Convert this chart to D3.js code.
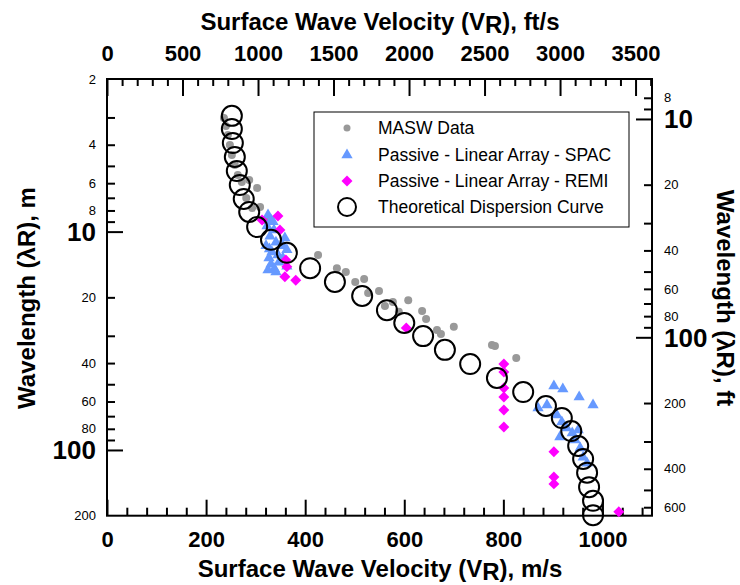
<!DOCTYPE html>
<html><head><meta charset="utf-8">
<script src="https://cdn.jsdelivr.net/npm/d3@7"></script>
<style>body{margin:0;background:#fff} svg{display:block;font-family:"Liberation Sans",Arial,sans-serif}</style>
</head><body>
<svg id="c" width="740" height="585"></svg>
<script>
// velocity (m/s), wavelength (m)
const masw = [[236,3.02],[240,3.28],[244,3.61],[248,4.01],[252,4.46],[258,4.95],[264,5.51],[272,5.93],[287,5.80],[303,6.31],[281,7.02],[293,7.79],[309,7.71],[319,8.85],[426,12.8],[464,14.7],[482,15.3],[501,17.0],[519,16.5],[527,19.1],[549,18.7],[561,21.9],[577,21.0],[608,20.6],[589,23.3],[636,23.1],[644,25.1],[666,28.2],[700,27.3],[674,29.4],[777,33.1],[783,33.4],[826,37.9]];
const spac = [[325,8.39],[331,8.85],[335,9.0],[323,9.42],[337,9.83],[329,10.5],[359,10.7],[341,11.2],[355,11.6],[321,11.6],[328,12.0],[363,12.1],[333,12.4],[345,12.8],[327,13.2],[355,13.2],[347,13.8],[331,14.1],[363,14.4],[338,14.8],[325,15.0],[341,15.3],
  [902,50.9],[920,52.6],[953,57.2],[981,62.2],[870,64.2],[888,62.2],[908,69.1],[918,74.5],[928,79.3],[951,81.0],[939,83.6],[914,87.2],[945,90.0],[955,97.9],[961,108],[969,115]];
const remi = [[345,8.48],[313,8.85],[349,9.83],[361,13.5],[363,14.5],[359,16.1],[381,16.7],[604,27.6],[801,40.4],[801,44.0],[801,52.0],[801,57.2],[801,65.6],[801,78.5],[902,102],[902,133],[902,143],[1033,192]];
const theory = [[252,2.95],[252,3.39],[254,3.93],[258,4.55],[262,5.28],[268,6.12],[276,7.09],[287,8.13],[303,9.53],[331,10.9],[363,12.5],[410,14.7],[460,17.0],[515,19.7],[565,22.9],[600,26.2],[638,30.1],[682,34.8],[733,40.4],[787,46.8],[840,54.3],[886,62.9],[918,71.4],[937,81.9],[951,95.9],[961,110],[969,127],[973,148],[981,171],[981,199]];

const xMajor = [0,200,400,600,800,1000];
const xMinor = d3.range(0,1101,40).filter(v=>v%200!==0);
const ftMajor = [0,500,1000,1500,2000,2500,3000,3500];
const ftMinor = d3.range(0,3601,100).filter(v=>v%500!==0);
const yLabels = [2,4,6,8,10,20,40,60,80,100,200];
const yTicks = [3,4,5,6,7,8,9,20,30,40,50,60,70,80,90];
const yBig = [10,100];
const yftLabels = [8,10,20,40,60,80,100,200,400,600];
const yftTicks = [8,9,20,30,40,50,60,70,80,90,200,300,400,500,600];
const legendItems = ["MASW Data","Passive - Linear Array - SPAC","Passive - Linear Array - REMI","Theoretical Dispersion Curve"];

const L=107,R=652,T=79,B=515.7;
const M2FT=3.28084;
const svg=d3.select("#c");
const x=d3.scaleLinear().domain([0,1100]).range([L,R]);
const xft=d3.scaleLinear().domain([0,1100*M2FT]).range([L,R]);
const y=d3.scaleLog().domain([2,200]).range([T,B]);
const yft=d3.scaleLog().domain([2*M2FT,200*M2FT]).range([T,B]);

function styleAxis(g){g.select(".domain").remove();g.selectAll("line").attr("stroke","#000").attr("stroke-width",2);}

// bottom
svg.append("g").attr("transform",`translate(0,${B})`).call(d3.axisBottom(x).tickValues(xMinor).tickSize(-8).tickFormat("")).call(styleAxis);
svg.append("g").attr("transform",`translate(0,${B})`).call(d3.axisBottom(x).tickValues(xMajor).tickSize(-16).tickPadding(16).tickFormat(d3.format("d"))).call(styleAxis)
  .selectAll("text").attr("font-size",22).attr("font-weight","bold").attr("fill","#000").attr("font-family","Liberation Sans, Arial, sans-serif");
// top
svg.append("g").attr("transform",`translate(0,${T})`).call(d3.axisTop(xft).tickValues(ftMinor).tickSize(-7).tickFormat("")).call(styleAxis);
svg.append("g").attr("transform",`translate(0,${T})`).call(d3.axisTop(xft).tickValues(ftMajor).tickSize(-17).tickPadding(18).tickFormat(d3.format("d"))).call(styleAxis)
  .selectAll("text").attr("font-size",22).attr("font-weight","bold").attr("fill","#000").attr("font-family","Liberation Sans, Arial, sans-serif");
// left
svg.append("g").attr("transform",`translate(${L},0)`).call(d3.axisLeft(y).tickValues(yTicks).tickSize(-8).tickFormat("")).call(styleAxis);
svg.append("g").attr("transform",`translate(${L},0)`).call(d3.axisLeft(y).tickValues(yBig).tickSize(-16).tickFormat("")).call(styleAxis);
svg.append("g").selectAll("text").data(yLabels).join("text")
  .attr("x",L-11).attr("y",d=>y(d)).attr("dy","0.36em").attr("text-anchor","end")
  .attr("font-size",d=>yBig.includes(d)?26:13).attr("font-weight",d=>yBig.includes(d)?"bold":"normal").text(d=>d);
// right
svg.append("g").attr("transform",`translate(${R},0)`).call(d3.axisRight(yft).tickValues(yftTicks).tickSize(-8).tickFormat("")).call(styleAxis);
svg.append("g").attr("transform",`translate(${R},0)`).call(d3.axisRight(yft).tickValues(yBig).tickSize(-16).tickFormat("")).call(styleAxis);
svg.append("g").selectAll("text").data(yftLabels).join("text")
  .attr("x",R+12).attr("y",d=>yft(d)).attr("dy","0.36em").attr("text-anchor","start")
  .attr("font-size",d=>yBig.includes(d)?26:13).attr("font-weight",d=>yBig.includes(d)?"bold":"normal").text(d=>d);

// frame
svg.append("rect").attr("x",L).attr("y",T).attr("width",R-L).attr("height",B-T).attr("fill","none").attr("stroke","#000").attr("stroke-width",2);

// titles
function vrTitle(xx, yy, unit, fs){
  const tx=svg.append("text").attr("x",xx).attr("y",yy).attr("text-anchor","middle").attr("font-size",fs).attr("font-weight","bold");
  tx.append("tspan").text("Surface Wave Velocity (V");
  tx.append("tspan").attr("dy",3).text("R");
  tx.append("tspan").attr("dy",-3).text("), "+unit);
}
vrTitle(380,30,"ft/s",24);
vrTitle(380,577,"m/s",24);
svg.append("text").attr("transform","translate(35,298) rotate(-90)").attr("text-anchor","middle").attr("font-size",24).attr("font-weight","bold").text("Wavelength (λR), m");
svg.append("text").attr("transform","translate(717,298) rotate(90)").attr("text-anchor","middle").attr("font-size",24).attr("font-weight","bold").text("Wavelength (λR), ft");

// data
const plot=svg.append("g");
plot.selectAll(".m").data(masw).join("circle").attr("cx",d=>x(d[0])).attr("cy",d=>y(d[1])).attr("r",4).attr("fill","#999999");
const tri=d3.symbol().type(d3.symbolTriangle).size(55);
plot.selectAll(".s").data(spac).join("path").attr("d",tri).attr("transform",d=>`translate(${x(d[0])},${y(d[1])})`).attr("fill","#6699FF");
const dia=d3.symbol().type(d3.symbolSquare).size(60);
plot.selectAll(".r").data(remi).join("path").attr("d",dia).attr("transform",d=>`translate(${x(d[0])},${y(d[1])}) rotate(45)`).attr("fill","#FF00FF");
plot.selectAll(".t").data(theory).join("circle").attr("cx",d=>x(d[0])).attr("cy",d=>y(d[1])).attr("r",10).attr("fill","none").attr("stroke","#000").attr("stroke-width",2);

// legend
const lg=svg.append("g");
lg.append("rect").attr("x",314).attr("y",112).attr("width",315).attr("height",115).attr("fill","#fff").attr("stroke","#000").attr("stroke-width",1);
const ly=[128,155,181,207];
lg.append("circle").attr("cx",347).attr("cy",ly[0]).attr("r",3.5).attr("fill","#999999");
lg.append("path").attr("d",tri).attr("transform",`translate(347,${ly[1]})`).attr("fill","#6699FF");
lg.append("path").attr("d",dia).attr("transform",`translate(347,${ly[2]}) rotate(45)`).attr("fill","#FF00FF");
lg.append("circle").attr("cx",347).attr("cy",ly[3]).attr("r",9).attr("fill","none").attr("stroke","#000").attr("stroke-width",2);
lg.selectAll("text").data(legendItems).join("text").attr("x",378).attr("y",(d,i)=>ly[i]).attr("dy","0.36em").attr("font-size",17.5).text(d=>d);
</script>
</body></html>
